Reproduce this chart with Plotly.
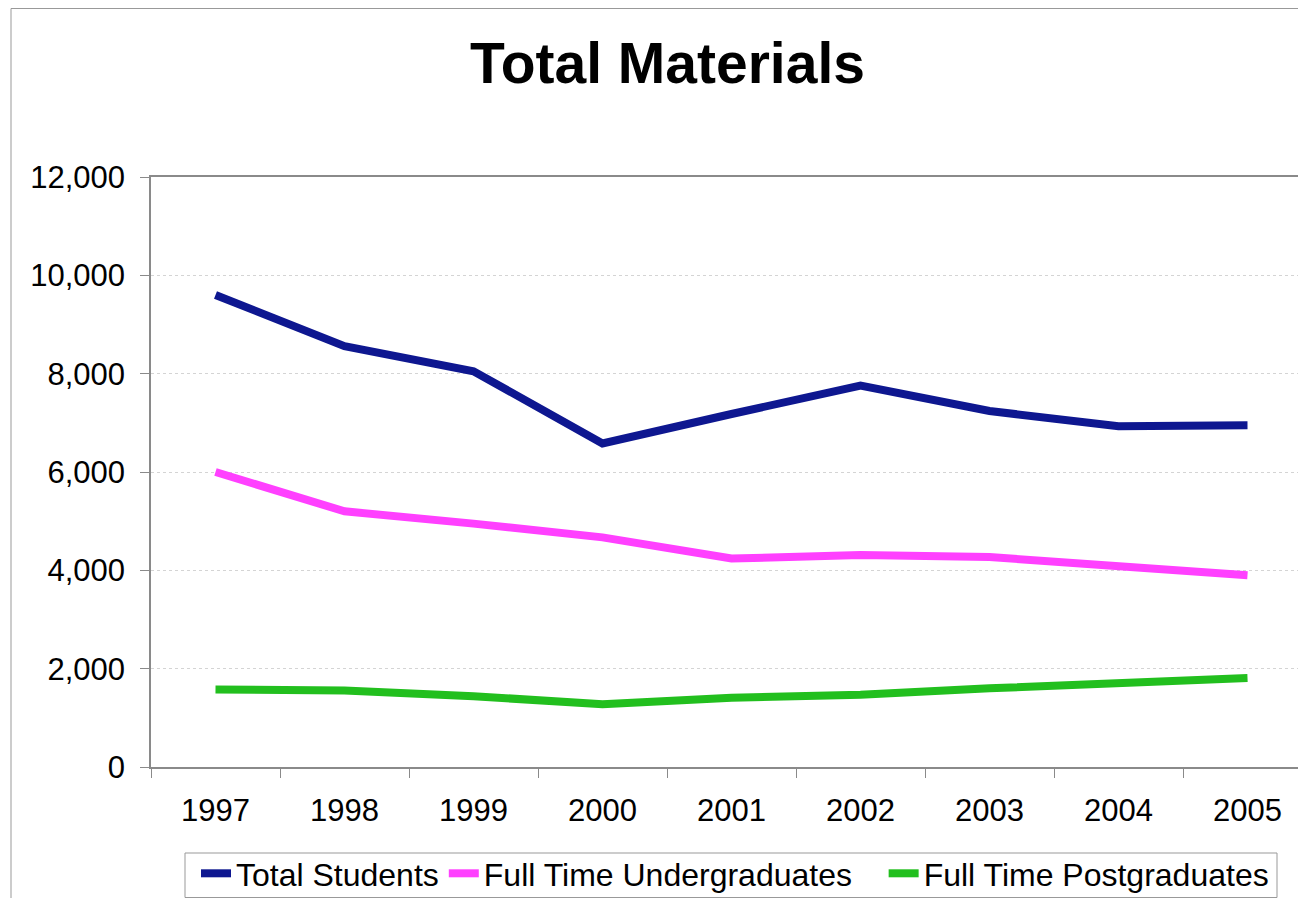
import plotly.graph_objects as go

years = ["1997", "1998", "1999", "2000", "2001", "2002", "2003", "2004", "2005"]
total_students = [9600, 8560, 8050, 6580, 7180, 7760, 7240, 6930, 6950]
ft_undergrad = [6000, 5200, 4950, 4670, 4240, 4310, 4270, 4090, 3900]
ft_postgrad = [1575, 1555, 1440, 1275, 1410, 1470, 1600, 1710, 1810]
y_ticks = [0, 2000, 4000, 6000, 8000, 10000, 12000]

series = [
    ("Total Students", total_students, "#0E1790"),
    ("Full Time Undergraduates&nbsp;&nbsp;&nbsp;", ft_undergrad, "#FF40FF"),
    ("Full Time Postgraduates", ft_postgrad, "#22BF1E"),
]

OFF = 8  # page body margin
W, H = 1306 - OFF, 898 - OFF
L = 151 - OFF
T = 177 - OFF
plot_bottom = 767 - OFF
plot_right = 1305 - OFF
R = W - plot_right
B = H - plot_bottom
pw, ph = W - L - R, H - T - B


def px_x(sx):
    return (sx - OFF - L) / pw


def px_y(sy):
    return -((sy - OFF) - plot_bottom) / ph


fig = go.Figure()
for name, vals, col in series:
    fig.add_trace(go.Scatter(x=years, y=vals, name=name, mode="lines",
                             line=dict(color=col, width=8)))

axis_col = "#8a8a8a"
fig.update_layout(
    width=W, height=H,
    margin=dict(l=L, r=R, t=T, b=B, autoexpand=False),
    paper_bgcolor="white", plot_bgcolor="white",
    font=dict(family="Liberation Sans, Arial, sans-serif", size=31, color="black"),
    title=dict(text="<b>Total Materials</b>", x=(667.5 - OFF) / W, xanchor="center",
               y=1 - (92 - OFF - 9) / H, yanchor="bottom", yref="container",
               font=dict(size=57, color="black")),
    showlegend=True,
    legend=dict(orientation="h", x=px_x(196), xanchor="left",
                y=px_y(846), yanchor="top",
                bgcolor="rgba(0,0,0,0)", borderwidth=0,
                font=dict(size=32), itemwidth=30, tracegroupgap=0),
    xaxis=dict(type="category", range=[-0.5, -0.5 + pw / 129.0],
               showline=True, linecolor=axis_col, linewidth=1.5, mirror=True,
               ticks="outside", ticklen=9, tickcolor=axis_col, tickwidth=1,
               tickson="boundaries", showgrid=False, zeroline=False,
               ticklabelstandoff=15),
    yaxis=dict(range=[0, 12000], tickvals=y_ticks, tickformat=",d",
               showline=True, linecolor=axis_col, linewidth=1.5,
               ticks="outside", ticklen=9, tickcolor=axis_col, tickwidth=1,
               showgrid=True, gridcolor="#d4d4d4", griddash="dot", gridwidth=1,
               zeroline=False, ticklabelstandoff=9),
)

# outer chart border
fig.add_shape(type="rect", xref="paper", yref="paper",
              x0=px_x(11), x1=1.05, y0=-0.3, y1=1 + (T - 0.5) / ph,
              line=dict(color="#999999", width=1), fillcolor="rgba(0,0,0,0)", layer="below")
# legend box
fig.add_shape(type="rect", xref="paper", yref="paper",
              x0=px_x(185), x1=px_x(1277), y0=px_y(897.5), y1=px_y(853),
              line=dict(color="#999999", width=1), fillcolor="rgba(0,0,0,0)", layer="below")

fig.write_html("out.html")
